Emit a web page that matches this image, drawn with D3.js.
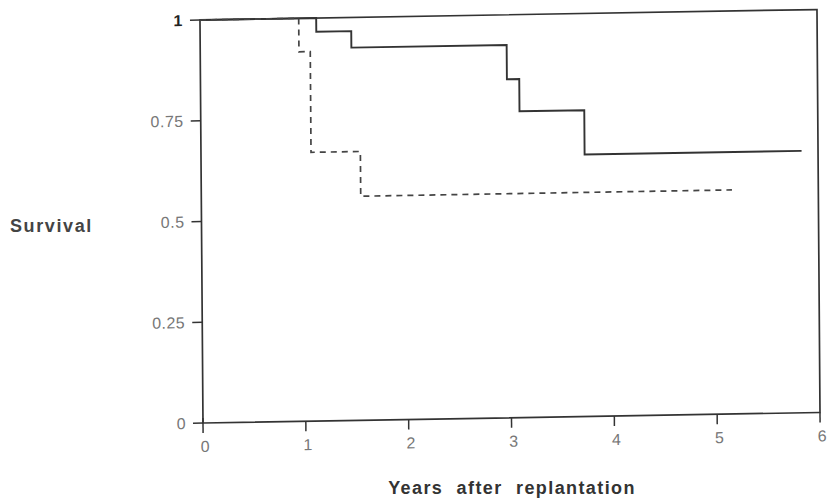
<!DOCTYPE html>
<html>
<head>
<meta charset="utf-8">
<script src="https://cdn.jsdelivr.net/npm/d3@7"></script>
<style>
  body { margin: 0; background: #fff; }
  svg { display: block; }
</style>
</head>
<body>
<svg id="chart" width="829" height="499"></svg>
<script>
// survival curves
const solidYears = [0, 1.13, 1.47, 2.98, 3.1, 3.73, 5.84];
const solidSurvival = [1, 0.966, 0.925, 0.84, 0.76, 0.65, 0.65];
const dashedYears = [0, 0.96, 1.07, 1.55, 5.16];
const dashedSurvival = [1, 0.917, 0.667, 0.556, 0.556];
const xTicks = [0, 1, 2, 3, 4, 5, 6];
const yTicks = [0, 0.25, 0.5, 0.75, 1];
const yTickLabels = ["0", "0.25", "0.5", "0.75", "1"];

const plotLeft = 203, plotRight = 820, plotTop = 20, plotBottom = 423;

const x = d3.scaleLinear().domain([0, 6]).range([plotLeft, plotRight]);
const y = d3.scaleLinear().domain([0, 1]).range([plotBottom, plotTop]);

// the scan is a little skewed: horizontals climb to the right, verticals lean
const a = 0.0075, b = -0.017;

const svg = d3.select('#chart');
const g = svg.append('g')
    .attr('transform', `matrix(1,${b},${a},1,${-a * plotBottom},${-b * plotLeft})`);

// frame
g.append('rect')
    .attr('x', plotLeft).attr('y', plotTop)
    .attr('width', plotRight - plotLeft).attr('height', plotBottom - plotTop)
    .attr('fill', 'none')
    .attr('stroke', '#333')
    .attr('stroke-width', 1.7);

// y ticks
g.append('g')
    .selectAll('line')
    .data(yTicks)
    .join('line')
    .attr('x1', plotLeft - 10).attr('x2', plotLeft)
    .attr('y1', d => y(d)).attr('y2', d => y(d))
    .attr('stroke', '#333').attr('stroke-width', 1.5);

g.append('g')
    .attr('font-family', 'Liberation Sans, Arial, sans-serif')
    .attr('text-anchor', 'end')
    .selectAll('text')
    .data(yTicks)
    .join('text')
    .attr('x', plotLeft - 17)
    .attr('y', d => y(d))
    .attr('dy', '0.36em')
    .attr('fill', d => d === 1 ? '#222' : '#777')
    .attr('font-size', 16)
    .attr('font-weight', d => d === 1 ? 'bold' : 'normal')
    .attr('letter-spacing', 0.5)
    .text((d, i) => yTickLabels[i]);

// x ticks
g.append('g')
    .selectAll('line')
    .data(xTicks)
    .join('line')
    .attr('x1', d => x(d)).attr('x2', d => x(d))
    .attr('y1', d => d === 0 ? plotBottom - 5 : plotBottom).attr('y2', plotBottom + 10)
    .attr('stroke', '#333').attr('stroke-width', 1.5);

g.append('g')
    .attr('font-family', 'Liberation Sans, Arial, sans-serif')
    .attr('font-size', 16)
    .attr('fill', '#777')
    .attr('text-anchor', 'middle')
    .selectAll('text')
    .data(xTicks)
    .join('text')
    .attr('x', d => x(d) + 2)
    .attr('y', plotBottom + 29)
    .text(d => d);

// curves
const line = d3.line()
    .x(d => x(d[0]))
    .y(d => y(d[1]))
    .curve(d3.curveStepAfter);

g.append('path')
    .datum(solidYears.map((t, i) => [t, solidSurvival[i]]))
    .attr('d', line)
    .attr('fill', 'none')
    .attr('stroke', '#333')
    .attr('stroke-width', 1.9);

g.append('path')
    .datum(dashedYears.map((t, i) => [t, dashedSurvival[i]]))
    .attr('d', line)
    .attr('fill', 'none')
    .attr('stroke', '#444')
    .attr('stroke-width', 1.7)
    .attr('stroke-dasharray', '6,5');

// axis titles (unskewed)
svg.append('text')
    .attr('x', 10).attr('y', 232)
    .attr('font-family', 'Liberation Sans, Arial, sans-serif')
    .attr('font-weight', 'bold')
    .attr('font-size', 18)
    .attr('letter-spacing', 1.6)
    .attr('fill', '#444')
    .text('Survival');

svg.append('text')
    .attr('x', 512).attr('y', 494)
    .attr('text-anchor', 'middle')
    .attr('font-family', 'Liberation Sans, Arial, sans-serif')
    .attr('font-weight', 'bold')
    .attr('font-size', 18)
    .attr('letter-spacing', 1.4)
    .attr('word-spacing', 7)
    .attr('fill', '#333')
    .text('Years after replantation');
</script>
</body>
</html>
